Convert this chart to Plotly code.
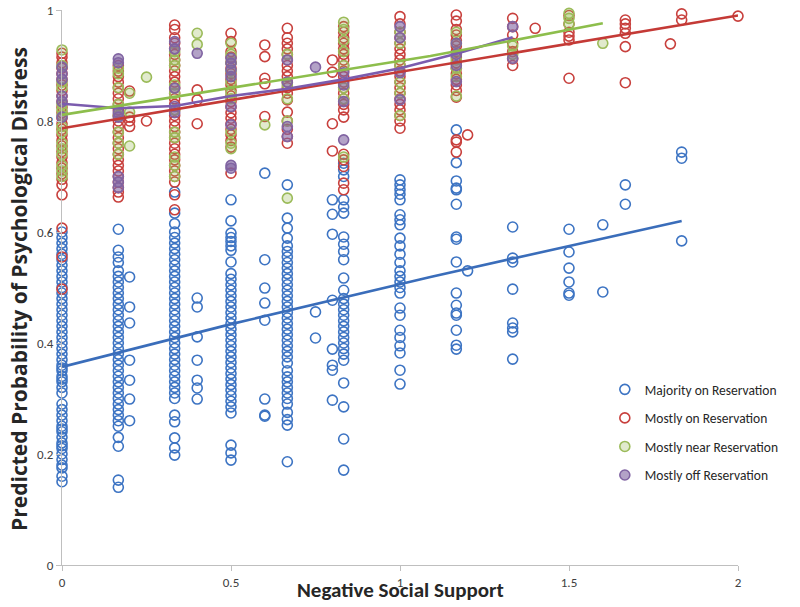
import plotly.graph_objects as go

# ---------------- data ----------------
SERIES_NAMES = ["Majority on Reservation", "Mostly on Reservation",
                "Mostly near Reservation", "Mostly off Reservation"]

# Majority on Reservation (blue) : x positions and the y values in each column
BLUE_X = [0, 1/6, 0.2, 1/3, 0.4, 0.5, 0.6, 2/3, 0.75, 0.8, 5/6, 1.0,
          7/6, 1.2, 4/3, 1.5, 1.6, 5/3, 11/6]
BLUE_Y = [
    [0.15, 0.16, 0.175, 0.18, 0.19, 0.2, 0.21, 0.215, 0.22, 0.23, 0.24, 0.245, 0.25, 0.26,
     0.27, 0.28, 0.29, 0.31, 0.32, 0.33, 0.335, 0.34, 0.35, 0.355, 0.36, 0.37, 0.38, 0.39,
     0.4, 0.41, 0.42, 0.43, 0.44, 0.45, 0.46, 0.47, 0.48, 0.49, 0.5, 0.51, 0.52, 0.53,
     0.54, 0.55, 0.56, 0.57, 0.58, 0.59, 0.6],
    [0.14, 0.153, 0.214, 0.23, 0.25, 0.26, 0.27, 0.28, 0.29, 0.3, 0.31, 0.32, 0.33, 0.34,
     0.35, 0.36, 0.37, 0.38, 0.39, 0.4, 0.41, 0.42, 0.43, 0.44, 0.45, 0.46, 0.47, 0.48,
     0.49, 0.5, 0.51, 0.52, 0.53, 0.545, 0.555, 0.567, 0.605],
    [0.519, 0.465, 0.436, 0.369, 0.333, 0.299, 0.26],
    [0.198, 0.211, 0.229, 0.258, 0.27, 0.3, 0.31, 0.32, 0.33, 0.34, 0.35, 0.36, 0.37, 0.38,
     0.39, 0.4, 0.41, 0.42, 0.43, 0.44, 0.45, 0.46, 0.47, 0.48, 0.49, 0.5, 0.51, 0.52,
     0.53, 0.54, 0.55, 0.56, 0.57, 0.58, 0.59, 0.6, 0.615, 0.634, 0.672],
    [0.481, 0.465, 0.411, 0.369, 0.333, 0.319, 0.299],
    [0.189, 0.202, 0.216, 0.274, 0.285, 0.295, 0.305, 0.315, 0.325, 0.335, 0.345, 0.355,
     0.365, 0.375, 0.385, 0.395, 0.405, 0.415, 0.425, 0.435, 0.445, 0.455, 0.465, 0.475,
     0.485, 0.495, 0.505, 0.515, 0.525, 0.546, 0.567, 0.575, 0.583, 0.59, 0.598, 0.62, 0.658],
    [0.706, 0.55, 0.499, 0.472, 0.441, 0.299, 0.27, 0.268],
    [0.186, 0.252, 0.262, 0.275, 0.29, 0.3, 0.31, 0.32, 0.33, 0.339, 0.35, 0.364, 0.375,
     0.385, 0.395, 0.405, 0.415, 0.425, 0.435, 0.445, 0.455, 0.465, 0.475, 0.485, 0.495,
     0.505, 0.515, 0.525, 0.535, 0.545, 0.555, 0.565, 0.575, 0.589, 0.607, 0.625, 0.685],
    [0.456, 0.409],
    [0.658, 0.632, 0.596, 0.477, 0.389, 0.36, 0.351, 0.297],
    [0.171, 0.227, 0.285, 0.328, 0.369, 0.38, 0.39, 0.4, 0.41, 0.42, 0.43, 0.44, 0.45,
     0.46, 0.47, 0.48, 0.495, 0.517, 0.55, 0.565, 0.578, 0.591, 0.634, 0.645, 0.658,
     0.7, 0.712, 0.724],
    [0.326, 0.351, 0.382, 0.395, 0.41, 0.423, 0.45, 0.463, 0.49, 0.5, 0.51, 0.52, 0.53,
     0.545, 0.56, 0.575, 0.589, 0.613, 0.622, 0.631, 0.658, 0.668, 0.676, 0.685, 0.694],
    [0.784, 0.725, 0.692, 0.679, 0.676, 0.65, 0.591, 0.587, 0.546, 0.49, 0.468, 0.454,
     0.45, 0.423, 0.396, 0.389],
    [0.53],
    [0.609, 0.553, 0.546, 0.497, 0.436, 0.427, 0.42, 0.371],
    [0.605, 0.564, 0.535, 0.51, 0.49, 0.486],
    [0.613, 0.492],
    [0.685, 0.65],
    [0.744, 0.733, 0.584],
]

# Mostly on Reservation (red)
RED_X = [0, 1/6, 0.2, 0.25, 1/3, 0.4, 0.5, 0.6, 2/3, 0.8, 5/6, 1.0, 7/6, 1.2,
         4/3, 1.4, 1.5, 5/3, 1.8, 11/6, 2.0]
RED_Y = [
    [0.497, 0.555, 0.607, 0.667, 0.685, 0.695, 0.705, 0.715, 0.725, 0.735, 0.745, 0.755,
     0.765, 0.775, 0.785, 0.795, 0.805, 0.815, 0.825, 0.835, 0.845, 0.855, 0.865, 0.875,
     0.885, 0.895, 0.905, 0.915, 0.922],
    [0.663, 0.672, 0.68, 0.69, 0.7, 0.71, 0.72, 0.73, 0.74, 0.75, 0.76, 0.77, 0.78, 0.79,
     0.8, 0.81, 0.82, 0.83, 0.84, 0.85, 0.86, 0.87, 0.88, 0.89, 0.9],
    [0.854, 0.807, 0.8, 0.79],
    [0.8],
    [0.64, 0.667, 0.69, 0.7, 0.71, 0.72, 0.73, 0.74, 0.75, 0.76, 0.77, 0.78, 0.79, 0.8,
     0.81, 0.82, 0.83, 0.84, 0.85, 0.86, 0.87, 0.88, 0.89, 0.9, 0.91, 0.92, 0.93, 0.94,
     0.95, 0.965, 0.973],
    [0.856, 0.838, 0.795],
    [0.706, 0.753, 0.765, 0.775, 0.785, 0.795, 0.805, 0.815, 0.825, 0.835, 0.845, 0.855,
     0.865, 0.875, 0.885, 0.895, 0.905, 0.915, 0.925, 0.943, 0.958],
    [0.937, 0.916, 0.877, 0.867, 0.808],
    [0.76, 0.772, 0.785, 0.8, 0.816, 0.838, 0.85, 0.86, 0.87, 0.88, 0.89, 0.9, 0.91,
     0.92, 0.93, 0.94, 0.95, 0.967],
    [0.91, 0.888, 0.795, 0.746],
    [0.676, 0.688, 0.718, 0.73, 0.74, 0.807, 0.82, 0.83, 0.84, 0.85, 0.86, 0.87, 0.88,
     0.89, 0.9, 0.91, 0.92, 0.93, 0.94, 0.95, 0.96, 0.97],
    [0.787, 0.8, 0.81, 0.82, 0.83, 0.84, 0.85, 0.86, 0.87, 0.88, 0.89, 0.9, 0.91, 0.92,
     0.93, 0.94, 0.95, 0.96, 0.975, 0.988],
    [0.744, 0.762, 0.766, 0.843, 0.855, 0.865, 0.875, 0.885, 0.895, 0.905, 0.915, 0.925,
     0.935, 0.945, 0.955, 0.965, 0.98, 0.991],
    [0.775],
    [0.9, 0.912, 0.925, 0.94, 0.955, 0.97, 0.985],
    [0.967],
    [0.877, 0.946, 0.953, 0.96, 0.975, 0.99],
    [0.869, 0.934, 0.958, 0.967, 0.975, 0.982],
    [0.939],
    [0.982, 0.993],
    [0.989],
]

# Mostly near Reservation (green)
GREEN_X = [0, 1/6, 0.2, 0.25, 1/3, 0.4, 0.5, 0.6, 2/3, 5/6, 1.0, 7/6, 4/3, 1.5, 1.6]
GREEN_Y = [
    [0.7, 0.71, 0.72, 0.74, 0.75, 0.76, 0.78, 0.79, 0.81, 0.82, 0.83, 0.86, 0.87, 0.9, 0.928],
    [0.74, 0.76, 0.78, 0.81, 0.83, 0.86, 0.885, 0.895],
    [0.85, 0.816, 0.755],
    [0.879],
    [0.7, 0.72, 0.735, 0.77, 0.78, 0.82, 0.85, 0.865, 0.9, 0.91, 0.925],
    [0.958, 0.938],
    [0.75, 0.76, 0.78, 0.84, 0.85, 0.87, 0.89, 0.905, 0.92, 0.94],
    [0.793],
    [0.661, 0.8, 0.84, 0.865, 0.92],
    [0.735, 0.84, 0.86, 0.9, 0.925, 0.945, 0.965, 0.978],
    [0.81, 0.85, 0.87, 0.9, 0.94, 0.96],
    [0.845, 0.88, 0.895, 0.91, 0.94, 0.96],
    [0.92, 0.935],
    [0.975, 0.985, 0.994],
    [0.94],
]

# Mostly off Reservation (purple)
PURPLE_X = [0, 1/6, 1/3, 0.4, 0.5, 2/3, 0.75, 5/6, 1.0, 7/6, 4/3]
PURPLE_Y = [
    [0.807, 0.835, 0.845, 0.875, 0.885, 0.897],
    [0.68, 0.69, 0.7, 0.807, 0.815, 0.905, 0.912],
    [0.815, 0.826, 0.859, 0.93, 0.943],
    [0.922],
    [0.715, 0.72, 0.793, 0.826, 0.88, 0.892, 0.904, 0.913],
    [0.772, 0.79, 0.87, 0.91],
    [0.897],
    [0.766, 0.835, 0.865, 0.887],
    [0.838, 0.887, 0.95, 0.97],
    [0.871, 0.9, 0.92, 0.94],
    [0.913, 0.97],
]

# fitted (trend) lines
BLUE_LINE_X = [0, 0.5, 1.09, 11/6]
BLUE_LINE_Y = [0.357, 0.434, 0.519, 0.62]
RED_LINE_X = [0, 2.0]
RED_LINE_Y = [0.787, 0.99]
GREEN_LINE_X = [0, 1.09, 1.6]
GREEN_LINE_Y = [0.811, 0.917, 0.976]
PURPLE_LINE_X = [0, 1/6, 1/3, 0.5, 2/3, 5/6, 1.0, 7/6, 4/3]
PURPLE_LINE_Y = [0.831, 0.823, 0.827, 0.845, 0.858, 0.875, 0.895, 0.921, 0.951]

X_TICKS = [0, 0.5, 1, 1.5, 2]
X_TICK_TEXT = ["0", "0.5", "1", "1.5", "2"]
Y_TICKS = [0, 0.2, 0.4, 0.6, 0.8, 1]
Y_TICK_TEXT = ["0", "0.2", "0.4", "0.6", "0.8", "1"]


def expand(xs, ys):
    ox, oy = [], []
    for x, col in zip(xs, ys):
        for y in col:
            ox.append(x)
            oy.append(y)
    return ox, oy


# ---------------- styling ----------------
FONT = "Carlito, Liberation Sans Narrow, Liberation Sans, Arial, sans-serif"
BLUE = "#3D74C3"
RED = "#C8403D"
GREEN = "#9BBB59"
PURPLE = "#8064A2"

fig = go.Figure()

groups = [
    (BLUE_X, BLUE_Y, BLUE, "rgba(0,0,0,0)"),
    (RED_X, RED_Y, RED, "rgba(0,0,0,0)"),
    (GREEN_X, GREEN_Y, GREEN, "rgba(155,187,89,0.30)"),
    (PURPLE_X, PURPLE_Y, PURPLE, "rgba(128,100,162,0.60)"),
]
for i, (gx, gy, col, fill) in enumerate(groups):
    x, y = expand(gx, gy)
    fig.add_trace(go.Scatter(
        x=x, y=y, mode="markers", name=SERIES_NAMES[i],
        legendgroup=f"g{i}", cliponaxis=False,
        marker=dict(symbol="circle", size=10, color=fill,
                    line=dict(color=col, width=1.6)),
    ))

lines = [
    (BLUE_LINE_X, BLUE_LINE_Y, "#3A6DBA"),
    (RED_LINE_X, RED_LINE_Y, "#C43A36"),
    (PURPLE_LINE_X, PURPLE_LINE_Y, "#7B5CAE"),
    (GREEN_LINE_X, GREEN_LINE_Y, "#8DBE4C"),
]
for lx, ly, col in lines:
    fig.add_trace(go.Scatter(x=lx, y=ly, mode="lines", showlegend=False,
                             cliponaxis=False, hoverinfo="skip",
                             line=dict(color=col, width=2.6)))

fig.update_layout(
    width=800, height=607,
    margin=dict(l=62, r=62, t=10, b=42),
    paper_bgcolor="white", plot_bgcolor="white",
    font=dict(family=FONT, size=13, color="#404040"),
    showlegend=True,
    legend=dict(x=0.803, y=0.344, xanchor="left", yanchor="top",
                bgcolor="rgba(0,0,0,0)", tracegroupgap=8,
                traceorder="grouped", itemwidth=30,
                font=dict(family=FONT, size=13.5, color="#262626")),
    xaxis=dict(range=[0, 2], tickvals=X_TICKS, ticktext=X_TICK_TEXT,
               showgrid=False, zeroline=False, showline=True, automargin=False,
               linecolor="#BFBFBF", linewidth=1, ticks="outside",
               ticklen=5, tickcolor="#BFBFBF",
               tickfont=dict(family=FONT, size=13, color="#404040")),
    yaxis=dict(range=[0, 1], tickvals=Y_TICKS, ticktext=Y_TICK_TEXT,
               showgrid=False, zeroline=False, showline=True, automargin=False,
               linecolor="#BFBFBF", linewidth=1, ticks="outside",
               ticklen=5, tickcolor="#BFBFBF",
               tickfont=dict(family=FONT, size=13, color="#404040")),
    annotations=[
        dict(text="<b>Negative Social Support</b>", xref="paper", yref="paper",
             x=0.5, y=-0.045, xanchor="center", yanchor="middle", showarrow=False,
             font=dict(family=FONT, size=21, color="#262626")),
        dict(text="<b>Predicted Probability of Psychological Distress</b>",
             xref="paper", yref="paper", x=-0.064, y=0.497, xanchor="center",
             yanchor="middle", textangle=-90, showarrow=False,
             font=dict(family="Open Sans, " + FONT, size=21, color="#262626")),
    ],
)

fig.write_html("out.html",
               config={"displayModeBar": False},
               post_script="document.body.style.margin='0';"
                           "document.body.style.overflow='hidden';")
